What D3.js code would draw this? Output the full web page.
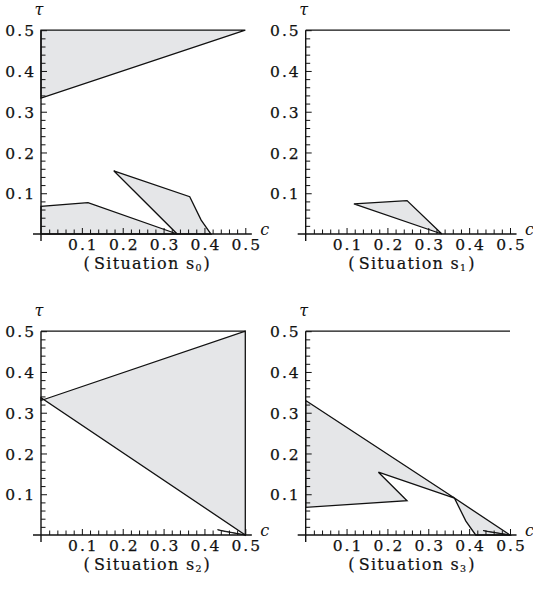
<!DOCTYPE html>
<html>
<head>
<meta charset="utf-8">
<script src="https://cdn.jsdelivr.net/npm/d3@7"></script>
<style>
  html, body { margin: 0; padding: 0; background: #fff; }
  svg { display: block; }
  text { font-family: "DejaVu Serif", "Liberation Serif", serif; fill: #111; }
</style>
</head>
<body>
<svg id="chart" width="533" height="595"></svg>
<script>
// ---- data ----
const xTickLabels = [0.1, 0.2, 0.3, 0.4, 0.5];
const yTickLabels = [0.1, 0.2, 0.3, 0.4, 0.5];
const minorStep = 0.02;
const captions = ["0", "1", "2", "3"]; // subscripts of "Situation s"

// Situation s0
const s0Top = [[0, 0.5], [0.5, 0.5], [0, 0.3333]];
const s0Low = [[0, 0], [0, 0.068], [0.115, 0.077], [0.3333, 0]];
const s0Quad = [[0.178, 0.155], [0.364, 0.0915], [0.392, 0.034], [0.416, 0], [0.3333, 0]];
// Situation s1
const s1Line = [[0, 0.5], [0.5, 0.5]];
const s1Tri = [[0.118, 0.074], [0.248, 0.082], [0.3333, 0]];
// Situation s2
const s2Line = [[0, 0.5], [0.5, 0.5]];
const s2Wedge = [[0, 0.330], [0.5, 0.5], [0.5, 0], [0, 0.337]];
const s2Sliver = [[0.432, 0.013], [0.5, 0], [0.447, 0.009]];
// Situation s3
const s3Line = [[0, 0.5], [0.5, 0.5]];
const s3PolyA = [[0, 0.33], [0.364, 0.0906], [0.178, 0.154], [0.248, 0.084], [0, 0.068]];
const s3PolyB = [[0.364, 0.0906], [0.5, 0], [0.416, 0], [0.392, 0.034]];
const s3Sliver = [[0.434, 0.011], [0.5, 0], [0.447, 0.008]];

const panelShapes = [
  { fills: [s0Top, s0Low, s0Quad], lines: [] },
  { fills: [s1Tri], lines: [s1Line] },
  { fills: [s2Wedge, s2Sliver], lines: [s2Line] },
  { fills: [s3PolyA, s3PolyB, s3Sliver], lines: [s3Line] }
];

// ---- layout ----
const origins = [[41, 234], [305.7, 234], [41, 535], [305.7, 535]];
const W = 204.3, H = 203.8;
const svg = d3.select("#chart");
const fillCol = "#e5e6e8";

panelShapes.forEach((p, i) => {
  const [ox, oy] = origins[i];
  const g = svg.append("g").attr("transform", `translate(${ox},${oy})`);
  const x = d3.scaleLinear().domain([0, 0.5]).range([0, W]);
  const y = d3.scaleLinear().domain([0, 0.5]).range([0, -H]);
  const line = d3.line().x(d => x(d[0])).y(d => y(d[1]));

  // fills
  p.fills.forEach(poly => {
    const small = d3.max(poly, d => d[1]) < 0.02;
    g.append("path").attr("d", line(poly) + "Z")
      .attr("fill", fillCol).attr("stroke", "#111")
      .attr("stroke-width", small ? 0.9 : 1.3)
      .attr("stroke-linejoin", "miter");
  });
  p.lines.forEach(l => {
    g.append("path").attr("d", line(l)).attr("fill", "none")
      .attr("stroke", "#111").attr("stroke-width", 1.3);
  });

  const minor = d3.range(minorStep, 0.5 + 1e-9, minorStep);
  const isMajor = v => Math.abs(v * 10 - Math.round(v * 10)) < 1e-6;

  // x axis ticks (pointing up)
  const xAxis = d3.axisTop(x).tickValues(minor).tickFormat("")
    .tickSizeInner(0).tickSizeOuter(0);
  const gx = g.append("g").call(xAxis);
  gx.select(".domain").remove();
  gx.selectAll(".tick line").attr("y2", d => isMajor(d) ? -6 : -4.5)
    .attr("stroke", "#111").attr("stroke-width", 1);
  // x labels
  const xLab = d3.axisBottom(x).tickValues(xTickLabels).tickFormat(d3.format(".1f"))
    .tickSize(0).tickPadding(0);
  const gxl = g.append("g").call(xLab);
  gxl.select(".domain").remove();
  gxl.selectAll("text").attr("dy", null).attr("y", 16)
    .attr("font-family", "DejaVu Serif").attr("font-size", 15.5)
    .attr("letter-spacing", 2).attr("dx", 1)
    .attr("fill", "#111").attr("stroke", "#111").attr("stroke-width", 0.25);

  // y axis ticks (pointing right)
  const yAxis = d3.axisLeft(y).tickValues(minor).tickFormat("")
    .tickSizeInner(0).tickSizeOuter(0);
  const gy = g.append("g").call(yAxis);
  gy.select(".domain").remove();
  gy.selectAll(".tick line").attr("x2", d => isMajor(d) ? 6 : 4.5)
    .attr("stroke", "#111").attr("stroke-width", 1);
  const yLab = d3.axisLeft(y).tickValues(yTickLabels).tickFormat(d3.format(".1f"))
    .tickSize(0).tickPadding(5);
  const gyl = g.append("g").call(yLab);
  gyl.select(".domain").remove();
  gyl.selectAll("text").attr("dy", "0.36em")
    .attr("font-family", "DejaVu Serif").attr("font-size", 15.5)
    .attr("letter-spacing", 2)
    .attr("fill", "#111").attr("stroke", "#111").attr("stroke-width", 0.25);

  // axis lines
  g.append("line").attr("x1", -8).attr("x2", x(0.516)).attr("y1", 0).attr("y2", 0)
    .attr("stroke", "#111").attr("stroke-width", 1.4);
  g.append("line").attr("x1", 0).attr("x2", 0).attr("y1", 7).attr("y2", y(0.5))
    .attr("stroke", "#111").attr("stroke-width", 1.4);

  // axis names
  g.append("text").attr("x", x(0.5) + 15).attr("y", 1)
    .attr("font-style", "italic").attr("font-size", 16).text("c");
  g.append("text").attr("x", -2).attr("y", y(0.5) - 15).attr("text-anchor", "middle")
    .attr("font-style", "italic").attr("font-size", 16).text("τ");

  // caption
  const cap = g.append("text").attr("x", x(0.26)).attr("y", 35)
    .attr("text-anchor", "middle").attr("font-size", 16)
    .attr("letter-spacing", 1.3)
    .attr("stroke", "#111").attr("stroke-width", 0.2);
  cap.append("tspan").text("(");
  cap.append("tspan").attr("dx", 3).text("Situation s");
  cap.append("tspan").attr("font-size", 9.5).attr("dy", 2).attr("letter-spacing", 0).text(captions[i]);
  cap.append("tspan").attr("dy", -2).attr("dx", 2).text(")");
});
</script>
</body>
</html>
